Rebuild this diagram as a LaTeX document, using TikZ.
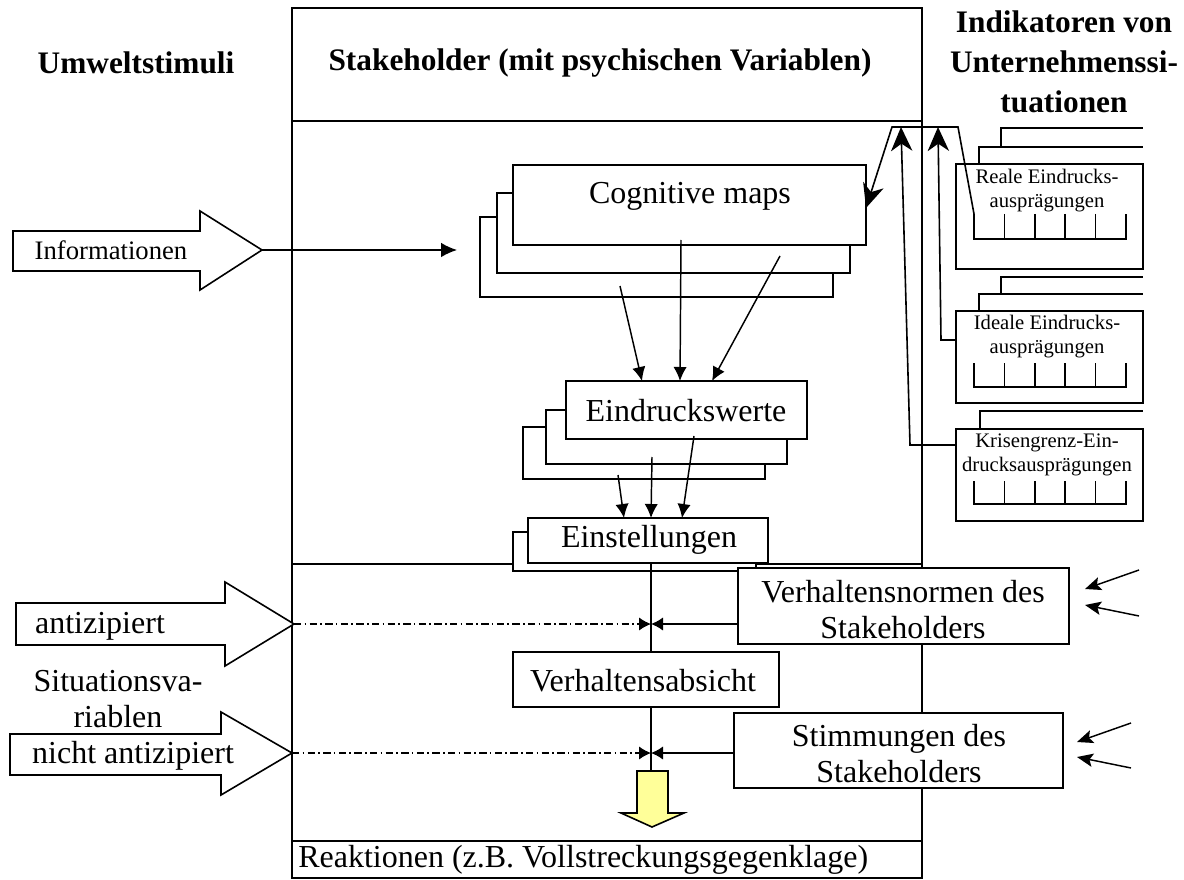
\documentclass[tikz,border=0pt]{standalone}
\usepackage{fontspec}
\setmainfont{Liberation Serif}
\usetikzlibrary{arrows.meta,fit}
\definecolor{outcome}{HTML}{FFFF99}
% bracket with five cells used in the indicator boxes
\newcommand\ratingscale[2]{%
  \draw[scalebar] (974,#1) -- (974,#2) -- (1126,#2) -- (1126,#1);
  \foreach \sx in {1004.4,1034.8,1065.2,1095.6}{\draw[scalebar] (\sx,#1) -- (\sx,#2);}
}
\begin{document}
\begin{tikzpicture}[x=0.75pt,y=-0.75pt,
  box/.style={draw, fill=white, line width=1.25pt, inner sep=0pt},
  frame/.style={draw, line width=1.7pt, inner sep=0pt},
  rule/.style={line width=1.7pt},
  txt/.style={font=\fontsize{24}{27}\selectfont, align=center, inner sep=0pt},
  smalltxt/.style={font=\fontsize{15.5}{18}\selectfont, align=center, inner sep=0pt},
  headtxt/.style={font=\bfseries\fontsize{23.5}{30}\selectfont, align=center, inner sep=0pt},
  bigarrow/.style={draw, fill=white, line width=1.2pt, line join=miter},
  scalebar/.style={line width=1.2pt},
  layer/.style={line width=1.2pt},
  flow/.style={line width=1.1pt, -{Latex[length=10.5pt,width=10pt]}},
  meet/.style={line width=1.1pt, -{Latex[length=9pt,width=10pt]}},
  dashdot/.style={dash pattern=on 5.5pt off 2.5pt on 1.2pt off 2.5pt},
  feed/.style={line width=1.2pt, -{Stealth[length=18pt,width=16pt,inset=5.5pt]}},
  ext/.style={line width=1.1pt, -{Stealth[length=12pt,width=10pt,inset=2.5pt]}},
]
\useasboundingbox (0,0) rectangle (1184,880);

% ---------- column headings ----------
\node[headtxt] (hUmwelt) at (136,63) {Umweltstimuli};
\node[headtxt] (hInd) at (1064,62) {Indikatoren von\\Unternehmenssi-\\tuationen};

% ---------- stakeholder frame ----------
\node[frame, fit={(292,8) (922,878)}] (stake) {};
\node[headtxt] (hStake) at (600,63) {Stakeholder (mit psychischen Variablen)};
\draw[rule] (292,121) -- (922,121);
\draw[rule] (292,564) -- (922,564);
\draw[rule] (292,841) -- (922,841);
\node[txt, anchor=west] (reakt) at (298,860) {Reaktionen (z.B. Vollstreckungsgegenklage)};

% ---------- environmental stimuli ----------
\draw[bigarrow] (13,231) -- (200,231) -- (200,211) -- (262,250) -- (200,290) -- (200,271) -- (13,271) -- cycle;
\coordinate (infoTip) at (262,250);
\node[inner sep=0pt, font=\fontsize{20}{24}\selectfont] (infoTxt) at (111,250) {Informationen};

\draw[bigarrow] (16,603) -- (225,603) -- (225,582) -- (294,624) -- (225,666) -- (225,645) -- (16,645) -- cycle;
\coordinate (antiTip) at (294,624);
\node[txt] (antiTxt) at (100,626) {antizipiert};

\node[txt] (sitTxt) at (118,699) {Situationsva-\\riablen};

\draw[bigarrow] (10,734) -- (221,734) -- (221,712) -- (292,753) -- (221,795) -- (221,775) -- (10,775) -- cycle;
\coordinate (nichtTip) at (292,753);
\node[txt] (nichtTxt) at (133,756) {nicht antizipiert};

% ---------- cognitive maps (stack of three) ----------
\node[box, fit={(480,217) (833,297)}] (cmBack) {};
\node[box, fit={(497,193) (850,273)}] (cmMid) {};
\node[box, fit={(513,165) (866,245)}] (cmFront) {};
\node[txt] (cmTxt) at (690,196) {Cognitive maps};
\coordinate (infoEnd) at (457,250);
\draw[line width=1.1pt, -{Latex[length=12pt,width=11pt]}] (infoTip) -- (infoEnd);

% ---------- Eindruckswerte (stack of three) ----------
\node[box, fit={(523,427) (765,479)}] (ewBack) {};
\node[box, fit={(546,410) (787,464)}] (ewMid) {};
\node[box, fit={(566,381) (807,439)}] (ewFront) {};
\node[txt] (ewTxt) at (686,411) {Eindruckswerte};

\coordinate (cmOutA) at (620,286);
\coordinate (cmOutB) at (681,240);
\coordinate (cmOutC) at (780,256);
\coordinate (ewInA) at (642,381);
\coordinate (ewInB) at (680,381);
\coordinate (ewInC) at (712,381);
\draw[flow] (cmOutA) -- (ewInA);
\draw[flow] (cmOutB) -- (ewInB);
\draw[flow] (cmOutC) -- (ewInC);

% ---------- Einstellungen (stack of two) ----------
\node[box, fit={(513,532) (756,571)}] (einBack) {};
\node[box, fit={(528,518) (768,563)}] (einFront) {};
\node[txt] (einTxt) at (649,540) {Einstellungen};

\coordinate (ewOutA) at (618,475);
\coordinate (ewOutB) at (652,457);
\coordinate (ewOutC) at (694,436);
\coordinate (einInA) at (624,518);
\coordinate (einInB) at (651,518);
\coordinate (einInC) at (682,518);
\draw[flow] (ewOutA) -- (einInA);
\draw[flow] (ewOutB) -- (einInB);
\draw[flow] (ewOutC) -- (einInC);

% ---------- behaviour chain ----------
\coordinate (spine) at (651,0);
\node[box, fit={(513,652) (779,707)}] (vaBox) {};
\node[txt] (vaTxt) at (643,681) {Verhaltensabsicht};

\node[box, fit={(738,568) (1069,644)}] (vnBox) {};
\node[txt] (vnTxt) at (903,610) {Verhaltensnormen des\\Stakeholders};

\node[box, fit={(734,713) (1063,788)}] (stBox) {};
\node[txt] (stTxt) at (899,754) {Stimmungen des\\Stakeholders};

\coordinate (meetA) at (651,624);
\coordinate (meetB) at (651,753);
\coordinate (outTop) at (651,771);

\draw[line width=1.1pt] (einFront.south -| spine) -- (vaBox.north -| spine);
\draw[line width=1.1pt] (vaBox.south -| spine) -- (outTop);

\draw[meet, dashdot] (antiTip) -- (meetA);
\draw[meet] (vnBox.west |- meetA) -- (meetA);
\draw[meet, dashdot] (nichtTip) -- (meetB);
\draw[meet] (stBox.west |- meetB) -- (meetB);

% outgoing reaction arrow
\draw[fill=outcome, line width=1.2pt, line join=miter] (637,771) -- (668,771) -- (668,813) -- (684,813) -- (652,827) -- (621,813) -- (637,813) -- cycle;

% external influences on norms and moods
\coordinate (vnSrcA) at (1139,570);
\coordinate (vnSrcB) at (1139,616);
\coordinate (vnTgtA) at (1085,589);
\coordinate (vnTgtB) at (1085,605);
\draw[ext] (vnSrcA) -- (vnTgtA);
\draw[ext] (vnSrcB) -- (vnTgtB);
\coordinate (stSrcA) at (1131,723);
\coordinate (stSrcB) at (1131,768);
\coordinate (stTgtA) at (1077,742);
\coordinate (stTgtB) at (1077,757);
\draw[ext] (stSrcA) -- (stTgtA);
\draw[ext] (stSrcB) -- (stTgtB);

% ---------- indicator boxes ----------
% Reale
\draw[layer] (1001,147) -- (1001,128) -- (1143,128);
\draw[layer] (979,164) -- (979,147) -- (1143,147);
\node[box, fit={(956,164) (1143,269)}] (realBox) {};
\node[smalltxt] (realTxt) at (1047,191) {Reale Eindrucks-\\ausprägungen};
\ratingscale{214}{239}
% Ideale
\draw[layer] (1001,294) -- (1001,277) -- (1143,277);
\draw[layer] (979,311) -- (979,294) -- (1143,294);
\node[box, fit={(956,311) (1143,403)}] (idealBox) {};
\node[smalltxt] (idealTxt) at (1047,337) {Ideale Eindrucks-\\ausprägungen};
\ratingscale{363}{387}
% Krisengrenz
\draw[layer] (980,429) -- (980,411) -- (1143,411);
\node[box, fit={(956,429) (1143,521)}] (krisBox) {};
\node[smalltxt] (krisTxt) at (1047,455) {Krisengrenz-Ein-\\drucksausprägungen};
\ratingscale{481}{504}

% ---------- feedback between indicators and cognitive maps ----------
\coordinate (realOut) at (974,214);
\coordinate (cmIn) at (866,208);
\draw[feed] (realOut) -- (958,127) -- (892,127) -- (cmIn);

\coordinate (idealOut) at (956,340);
\coordinate (idealTop) at (938,127);
\draw[feed] (idealOut) -- (941,340) -- (idealTop);

\coordinate (krisOut) at (956,445);
\coordinate (krisTop) at (901,127);
\draw[feed] (krisOut) -- (910,445) -- (krisTop);

\end{tikzpicture}
\end{document}
